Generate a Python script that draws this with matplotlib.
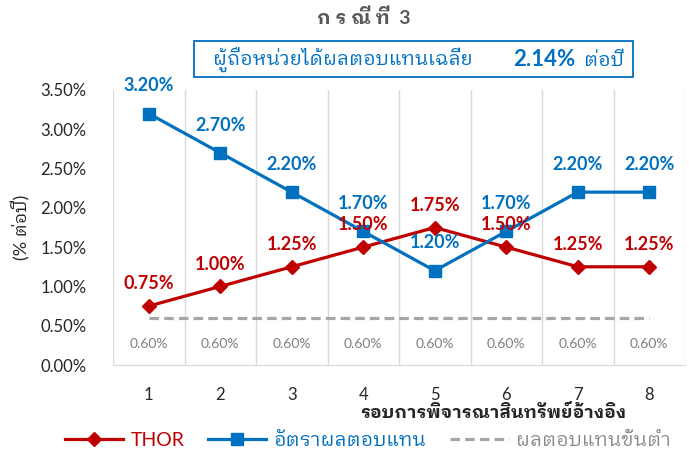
import matplotlib
matplotlib.use("Agg")
import matplotlib.pyplot as plt
from matplotlib.patches import Rectangle
from matplotlib.ticker import FuncFormatter, MultipleLocator

FAM = ['Lato', 'IBM Plex Sans Thai Looped', 'Noto Sans Thai Looped', 'DejaVu Sans']
plt.rcParams['font.family'] = FAM

rounds = [1, 2, 3, 4, 5, 6, 7, 8]
thor = [0.75, 1.00, 1.25, 1.50, 1.75, 1.50, 1.25, 1.25]
rate = [3.20, 2.70, 2.20, 1.70, 1.20, 1.70, 2.20, 2.20]
minimum = [0.60, 0.60, 0.60, 0.60, 0.60, 0.60, 0.60, 0.60]
avg_return = 2.14

RED = '#C00000'
BLUE = '#0070C0'
GREY = '#A6A6A6'

fig = plt.figure(figsize=(6.89, 4.53), dpi=100)
ax = fig.add_axes([113/689, 1-365/453, (685-113)/689, (365-90)/453])

l1, = ax.plot(rounds, thor, color=RED, lw=2.3, marker='D', ms=7, label='THOR')
l2, = ax.plot(rounds, rate, color=BLUE, lw=2.3, marker='s', ms=8, label='อัตราผลตอบแทน')
l3, = ax.plot(rounds, minimum, color=GREY, lw=2.3, ls=(0, (3, 1.6)), label='ผลตอบแทนขั้นต่ำ')

for x, v in zip(rounds, thor):
    ax.annotate(f'{v:.2f}%', (x, v), xytext=(0, 16), textcoords='offset points',
                ha='center', va='center', color=RED, fontsize=13, fontweight='bold')
for x, v in zip(rounds, rate):
    ax.annotate(f'{v:.2f}%', (x, v), xytext=(0, 20), textcoords='offset points',
                ha='center', va='center', color=BLUE, fontsize=13, fontweight='bold')
for x, v in zip(rounds, minimum):
    ax.annotate(f'{v:.2f}%', (x, v), xytext=(0, -19), textcoords='offset points',
                ha='center', va='center', color='#7F7F7F', fontsize=10)

ax.set_xlim(0.5, 8.5)
ax.set_ylim(0, 3.5)
ax.yaxis.set_major_locator(MultipleLocator(0.5))
ax.yaxis.set_major_formatter(FuncFormatter(lambda v, p: f'{v:.2f}%'))
ax.set_xticks(rounds)
ax.set_xticks([r - 0.5 for r in rounds] + [8.5], minor=True)
ax.grid(True, which='minor', axis='x', color='#D9D9D9', lw=1)
ax.tick_params(axis='both', which='both', length=0)
ax.tick_params(axis='x', pad=16, labelsize=12, colors='#262626')
ax.tick_params(axis='y', pad=19, labelsize=12, colors='#262626')
for s in ['top', 'left', 'right']:
    ax.spines[s].set_visible(False)
ax.spines['bottom'].set_color('#D9D9D9')
ax.set_facecolor('white')

ax.set_ylabel('(% ต่อปี)', fontsize=13, color='#262626')
ax.yaxis.set_label_coords(-0.145, 0.5)
fig.text(493/689, 1-412/453, 'รอบการพิจารณาสินทรัพย์อ้างอิง', ha='center', va='center',
         fontsize=13, fontweight='bold', color='#262626')

fig.text(364/689, 1-18/453, 'ก ร ณี ที่  3', ha='center', va='center', fontsize=14,
         fontweight='bold', color='#595959')

fig.patches.append(Rectangle((194/689, 1-77/453), (633-194)/689, 36/453,
                             transform=fig.transFigure, fill=False, ec=BLUE, lw=1.3))
fig.text(213/689, 1-60/453, 'ผู้ถือหน่วยได้ผลตอบแทนเฉลี่ย', ha='left', va='center',
         fontsize=14, color=BLUE)
fig.text(544/689, 1-59/453, f'{avg_return:.2f}%', ha='center', va='center',
         fontsize=16, fontweight='bold', color=BLUE)
fig.text(584/689, 1-60/453, 'ต่อปี', ha='left', va='center', fontsize=14, color=BLUE)

leg = fig.legend(handles=[l1, l2, l3], loc='center', bbox_to_anchor=(368/689, 1-440/453),
                 ncol=3, frameon=False, fontsize=14, handlelength=3.0, columnspacing=1.2,
                 handletextpad=0.4, labelcolor='linecolor', numpoints=1)
leg.get_texts()[2].set_color('#8C8C8C')

fig.savefig('out.png', dpi=100, facecolor='white')
